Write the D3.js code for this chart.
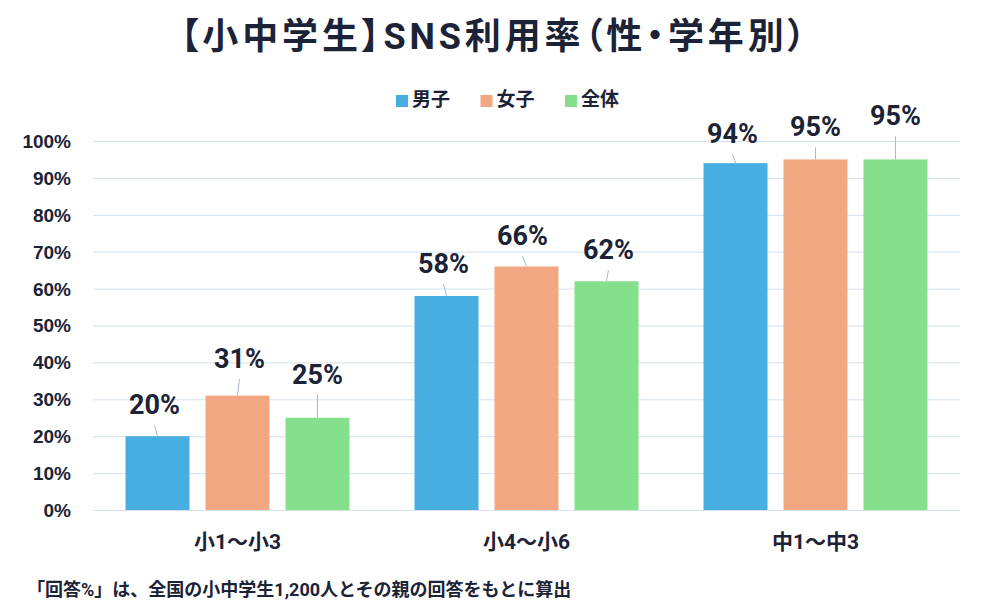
<!DOCTYPE html>
<html>
<head>
<meta charset="utf-8">
<script src="https://cdn.jsdelivr.net/npm/d3@7"></script>
<style>
  body { margin: 0; background: #fff; }
  svg { display: block; font-family: Roboto, "Noto Sans CJK JP", sans-serif; }
</style>
</head>
<body>
<div id="chart"></div>
<script>
var categories = ["小1〜小3", "小4〜小6", "中1〜中3"];
var seriesNames = ["男子", "女子", "全体"];
var boysValues = [20, 58, 94];
var girlsValues = [31, 66, 95];
var totalValues = [25, 62, 95];
var yTicks = [0, 10, 20, 30, 40, 50, 60, 70, 80, 90, 100];
var titleText = "【小中学生】SNS利用率（性・学年別）";
var noteText = "「回答%」は、全国の小中学生1,200人とその親の回答をもとに算出";

// hand placed label nudges [dx, gap above bar], per series then category
var labelNudges = [
  [[-3, 22], [-3, 23], [-3, 20]],
  [[2, 28], [-4, 21.5], [0, 23]],
  [[0, 34], [2, 22], [0, 34]]
];

var colors = ["#46afe0", "#f1a882", "#85e08d"];
var ink = "#1c2336";

var Chart = function(selector) {
  this._selector = selector;
  this._width = 985;
  this._height = 604;
  this._margin = { left: 93, right: 25, top: 141, bottom: 94 };
  this._initialize();
}

Chart.prototype._initialize = function() {
  var series = [boysValues, girlsValues, totalValues];
  this._rows = [];
  for (var s = 0; s < series.length; s++) {
    for (var c = 0; c < categories.length; c++) {
      this._rows.push({ s: s, name: seriesNames[s], cat: categories[c], c: c, value: series[s][c] });
    }
  }

  this._x0 = d3.scaleBand()
    .domain(categories)
    .range([this._margin.left, this._width - this._margin.right])
    .paddingInner(0.225)
    .paddingOuter(0.1125);
  this._x1 = d3.scaleBand()
    .domain(seriesNames)
    .range([0, this._x0.bandwidth()])
    .paddingInner(0.2);
  this._y = d3.scaleLinear()
    .domain([0, 100])
    .range([this._height - this._margin.bottom, this._margin.top]);

  this._createChart();
  this._drawGrid();
  this._drawBars();
  this._drawLabels();
  this._drawLegend();
  this._drawText();
}

Chart.prototype._createChart = function() {
  this._svg = d3.select(this._selector).append("svg")
    .attr("width", this._width)
    .attr("height", this._height);
}

Chart.prototype._drawGrid = function() {
  var axis = d3.axisLeft(this._y)
    .tickValues(yTicks)
    .tickSize(-(this._width - this._margin.left - this._margin.right))
    .tickPadding(22)
    .tickFormat(function(d) { return d + "%"; });

  var g = this._svg.append("g")
    .attr("transform", "translate(" + this._margin.left + ",0)")
    .call(axis);
  g.select(".domain").remove();
  g.selectAll(".tick line")
    .attr("stroke", "#d5e1eb")
    .attr("stroke-width", 1);
  g.selectAll(".tick text")
    .attr("fill", ink)
    .attr("font-size", 19)
    .attr("font-weight", 700)
    .attr("dy", "0.34em");
}

Chart.prototype._drawBars = function() {
  var chart = this;
  this._svg.append("g").selectAll("rect")
    .data(this._rows)
    .enter().append("rect")
    .attr("x", function(d) { return chart._x0(d.cat) + chart._x1(d.name); })
    .attr("y", function(d) { return chart._y(d.value); })
    .attr("width", this._x1.bandwidth())
    .attr("height", function(d) { return chart._y(0) - chart._y(d.value); })
    .attr("fill", function(d) { return colors[d.s]; });
}

Chart.prototype._drawLabels = function() {
  var chart = this;
  var barCenter = function(d) { return chart._x0(d.cat) + chart._x1(d.name) + chart._x1.bandwidth() / 2; };
  var labelX = function(d) { return barCenter(d) + labelNudges[d.s][d.c][0]; };
  var baseline = function(d) { return chart._y(d.value) - labelNudges[d.s][d.c][1]; };

  // leader lines only where the label sits well above the bar
  this._svg.append("g").selectAll("line")
    .data(this._rows.filter(function(d) { return labelNudges[d.s][d.c][1] > 12; }))
    .enter().append("line")
    .attr("x1", labelX)
    .attr("y1", function(d) { return baseline(d) + 11; })
    .attr("x2", barCenter)
    .attr("y2", function(d) { return chart._y(d.value); })
    .attr("stroke", "#a7bccd")
    .attr("stroke-width", 1);

  this._svg.append("g").selectAll("text")
    .data(this._rows)
    .enter().append("text")
    .attr("x", labelX)
    .attr("y", baseline)
    .attr("text-anchor", "middle")
    .attr("font-size", 27)
    .attr("font-weight", 700)
    .attr("fill", ink)
    .text(function(d) { return d.value + "%"; });
}

Chart.prototype._drawLegend = function() {
  var items = this._svg.append("g").selectAll("g")
    .data(seriesNames)
    .enter().append("g")
    .attr("transform", function(d, i) { return "translate(" + (396 + i * 84.5) + ",95)"; });
  items.append("rect")
    .attr("width", 12)
    .attr("height", 12)
    .attr("fill", function(d, i) { return colors[i]; });
  items.append("text")
    .attr("x", 16)
    .attr("y", 4)
    .attr("dominant-baseline", "central")
    .attr("font-size", 19)
    .attr("font-weight", 700)
    .attr("fill", ink)
    .text(function(d) { return d; });
}

Chart.prototype._drawText = function() {
  var chart = this;
  this._svg.append("g").selectAll("text")
    .data(categories)
    .enter().append("text")
    .attr("x", function(d) { return chart._x0(d) + chart._x0.bandwidth() / 2; })
    .attr("y", 542)
    .attr("dominant-baseline", "central")
    .attr("text-anchor", "middle")
    .attr("font-size", 21)
    .attr("font-weight", 700)
    .attr("fill", ink)
    .text(function(d) { return d; });

  this._svg.append("text")
    .attr("x", this._width / 2 - 312)
    .attr("y", 37)
    .attr("dominant-baseline", "central")
    .attr("font-size", 36)
    .attr("font-weight", 700)
    .attr("fill", ink)
    .style("font-feature-settings", "'palt'")
    .attr("textLength", 625)
    .attr("lengthAdjust", "spacing")
    .text(titleText);

  this._svg.append("text")
    .attr("x", 27)
    .attr("y", 589)
    .attr("dominant-baseline", "central")
    .attr("font-size", 18)
    .attr("font-weight", 700)
    .attr("fill", ink)
    .text(noteText);
}

new Chart("#chart");
</script>
</body>
</html>
